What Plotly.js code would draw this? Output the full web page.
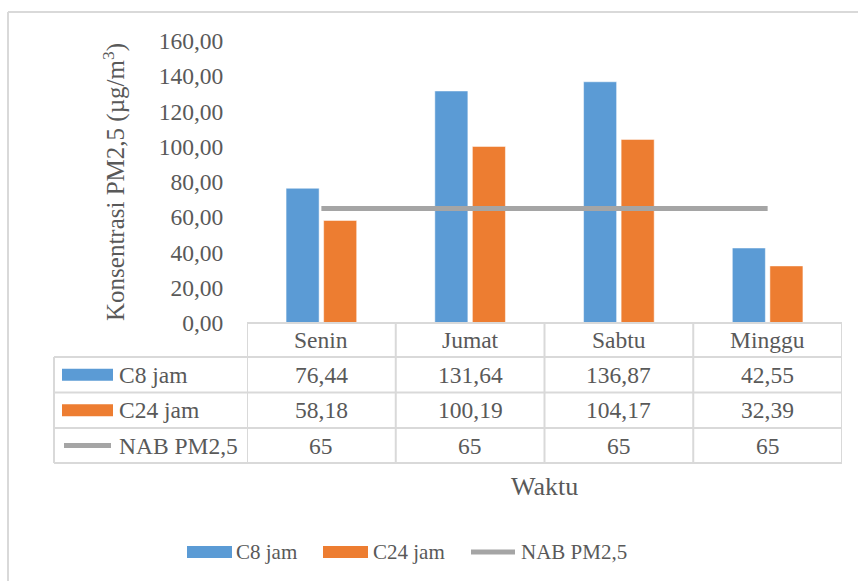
<!DOCTYPE html>
<html>
<head>
<meta charset="utf-8">
<script src="https://cdn.plot.ly/plotly-3.0.1.min.js"></script>
<style>
  html, body { margin: 0; padding: 0; background: #ffffff; }
  #chart { width: 858px; height: 581px; }
</style>
</head>
<body>
<div id="chart"></div>
<script>
// PM2.5 concentration per day, with the values repeated in a data table under the plot
const categories = ['Senin', 'Jumat', 'Sabtu', 'Minggu'];
const c8Jam = [76.44, 131.64, 136.87, 42.55];
const c24Jam = [58.18, 100.19, 104.17, 32.39];
const nabPm25 = [65, 65, 65, 65];
const seriesNames = ['C8 jam', 'C24 jam', 'NAB PM2,5'];
const yTickValues = [0, 20, 40, 60, 80, 100, 120, 140, 160];

const BLUE = '#5b9bd5';
const ORANGE = '#ed7d31';
const GRAY = '#a5a5a5';
const TEXT = '#595959';
const GRID = '#d9d9d9';
const FONT = 'Liberation Serif, Times New Roman, serif';
const TABLE_SIZE = 23.5;

// plot area in page pixels
const W = 858, H = 581;
const M = { l: 247, r: 16, t: 41, b: 258 };
const PW = W - M.l - M.r;
const PH = H - M.t - M.b;
const px = x => (x - M.l) / PW;          // page x -> paper x
const py = y => (H - M.b - y) / PH;      // page y -> paper y

const fmt = v => Number.isInteger(v) ? String(v) : v.toFixed(2).replace('.', ',');

const traces = [
  { type: 'bar', name: seriesNames[0], x: categories, y: c8Jam,
    marker: { color: BLUE, line: { color: '#ffffff', width: 0.5 } }, showlegend: false },
  { type: 'bar', name: seriesNames[1], x: categories, y: c24Jam,
    marker: { color: ORANGE, line: { color: '#ffffff', width: 0.5 } }, showlegend: false },
  { type: 'scatter', mode: 'lines', name: seriesNames[2], x: categories, y: nabPm25,
    line: { color: GRAY, width: 5 }, showlegend: false }
];

// data table: row borders (page y) and row centres
const rowEdges = [323, 357, 392.5, 428, 463];
const rowCenters = rowEdges.slice(0, -1).map((y, i) => (y + rowEdges[i + 1]) / 2);
const tableLeft = 54;

const shapes = [];
const annotations = [];
const line = (x0, y0, x1, y1, xref, extra) => Object.assign({
  type: 'line', xref: xref || 'paper', yref: 'paper', x0, y0, x1, y1,
  line: { color: GRID, width: 2 }, layer: 'above'
}, extra || {});

// outer chart frame
shapes.push(line(px(8), py(12), px(8), py(581)));
shapes.push(line(px(8), py(12), px(858), py(12)));

// horizontal table lines
shapes.push(line(0, py(rowEdges[0]), 1, py(rowEdges[0])));
for (let i = 1; i < rowEdges.length; i++) {
  shapes.push(line(px(tableLeft), py(rowEdges[i]), 1, py(rowEdges[i])));
}
// vertical table lines at category boundaries
for (let i = 0; i <= categories.length; i++) {
  shapes.push(line(i - 0.5, py(rowEdges[0]), i - 0.5, py(rowEdges[4]), 'x'));
}
shapes.push(line(px(tableLeft), py(rowEdges[1]), px(tableLeft), py(rowEdges[4])));

const txt = (text, x, y, size, xref, xanchor) => ({
  text, x, y, xref: xref || 'paper', yref: 'paper',
  xanchor: xanchor || 'center', yanchor: 'middle', showarrow: false,
  font: { family: FONT, size, color: TEXT }
});

// header row with category names
categories.forEach((c, i) => annotations.push(txt(c, i, py(rowCenters[0]), TABLE_SIZE, 'x')));

// value rows
const rows = [c8Jam, c24Jam, nabPm25];
const colors = [BLUE, ORANGE, GRAY];
rows.forEach((vals, r) => {
  const yc = rowCenters[r + 1];
  vals.forEach((v, i) => annotations.push(txt(fmt(v), i, py(yc), TABLE_SIZE, 'x')));
  annotations.push(txt(seriesNames[r], px(117), py(yc), TABLE_SIZE, 'paper', 'left'));
  if (r < 2) {
    shapes.push({ type: 'rect', xref: 'paper', yref: 'paper',
      x0: px(62), x1: px(113), y0: py(yc - 6), y1: py(yc + 6),
      fillcolor: colors[r], line: { width: 0 } });
  } else {
    shapes.push({ type: 'line', xref: 'paper', yref: 'paper',
      x0: px(64), x1: px(111), y0: py(yc), y1: py(yc),
      line: { color: colors[r], width: 5 } });
  }
});

// legend below the table
const legY = 552;
const legendItems = [
  { x0: 187, x1: 232, tx: 234 },
  { x0: 323, x1: 368, tx: 371 },
  { x0: 471, x1: 515, tx: 519 }
];
legendItems.forEach((it, r) => {
  if (r < 2) {
    shapes.push({ type: 'rect', xref: 'paper', yref: 'paper',
      x0: px(it.x0), x1: px(it.x1), y0: py(legY - 6), y1: py(legY + 6),
      fillcolor: colors[r], line: { width: 0 } });
  } else {
    shapes.push({ type: 'line', xref: 'paper', yref: 'paper',
      x0: px(it.x0), x1: px(it.x1), y0: py(legY), y1: py(legY),
      line: { color: colors[r], width: 5 } });
  }
  annotations.push(txt(seriesNames[r], px(it.tx), py(legY), 21, 'paper', 'left'));
});

// x axis title sits under the table
annotations.push(txt('Waktu', px(544), py(486), 26));

const layout = {
  width: W, height: H,
  margin: M,
  paper_bgcolor: '#ffffff', plot_bgcolor: '#ffffff',
  separators: ',.',
  barmode: 'group', bargap: 0.495, bargroupgap: 0.12,
  showlegend: false,
  font: { family: FONT, color: TEXT, size: 23 },
  xaxis: {
    type: 'category', categoryarray: categories, range: [-0.5, 3.5],
    showticklabels: false, ticks: '', showline: false, showgrid: false, zeroline: false,
    fixedrange: true
  },
  yaxis: {
    range: [0, 160], tickvals: yTickValues, tickformat: '.2f',
    ticks: 'outside', ticklen: 18, tickcolor: 'rgba(0,0,0,0)',
    showline: false, showgrid: false, zeroline: false,
    tickfont: { family: FONT, size: TABLE_SIZE, color: TEXT },
    title: { text: 'Konsentrasi PM2,5 (µg/m<sup>3</sup>)', standoff: 26,
             font: { family: FONT, size: 25, color: TEXT } },
    automargin: false, fixedrange: true
  },
  shapes, annotations
};

Plotly.newPlot('chart', traces, layout, { displayModeBar: false, staticPlot: true });
</script>
</body>
</html>
